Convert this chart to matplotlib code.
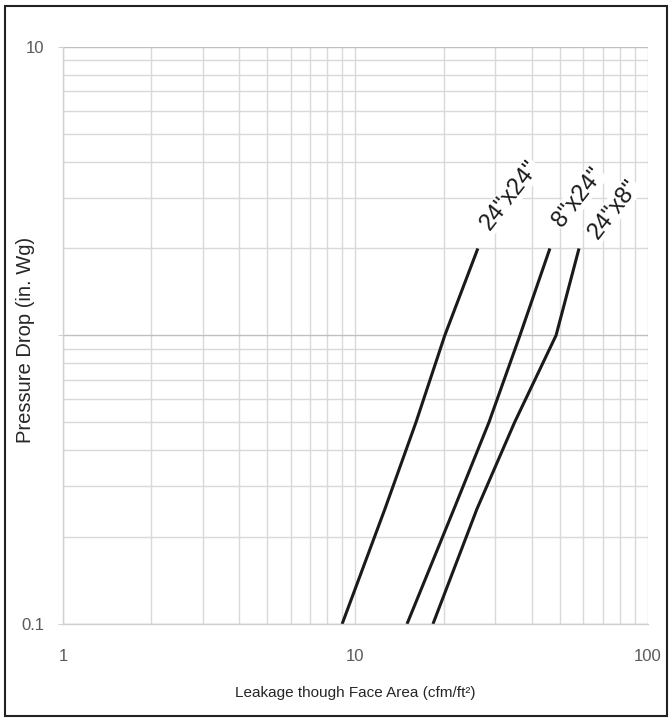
import numpy as np
import matplotlib.pyplot as plt
from matplotlib.patches import Rectangle
from matplotlib.ticker import FixedLocator, NullFormatter, LogLocator

plt.rcParams['font.family'] = ['Liberation Sans', 'DejaVu Sans']

# pressure drop points (in. Wg)
dp = [0.1, 0.25, 0.5, 1, 2]

# leakage (cfm/ft2)
leak_24x24 = [9.0, 12.6, 16.1, 20.2, 26.2]
leak_8x24 = [15.0, 21.7, 28.6, 36.5, 46.2]
leak_24x8 = [18.4, 26.0, 35.0, 48.5, 58.1]

series = [('24"x24"', leak_24x24), ('8"x24"', leak_8x24), ('24"x8"', leak_24x8)]
# label centre (x, y) in data units
label_pos = [(33.8, 3.05), (57.6, 3.0), (76.3, 2.74)]

fig = plt.figure(figsize=(6.72, 7.2), dpi=100)
ax = fig.add_axes([0.09375, 0.1333, 0.8705, 0.8018])

ax.set_xscale('log')
ax.set_yscale('log')
ax.set_xlim(1, 100)
ax.set_ylim(0.1, 10)

grid_col = '#d9d9d9'
ax.xaxis.set_major_locator(FixedLocator([1, 10, 100]))
ax.yaxis.set_major_locator(FixedLocator([0.1, 1, 10]))
ax.xaxis.set_minor_locator(LogLocator(base=10, subs=np.arange(2, 10)))
ax.yaxis.set_minor_locator(LogLocator(base=10, subs=np.arange(2, 10)))
ax.xaxis.set_minor_formatter(NullFormatter())
ax.yaxis.set_minor_formatter(NullFormatter())
ax.set_xticklabels(['1', '10', '100'])
ax.set_yticklabels(['0.1', '', '10'])

ax.grid(True, which='both', color=grid_col, linewidth=1.0)
ax.grid(True, which='major', axis='y', color='#c0c0c0', linewidth=1.0)
ax.set_axisbelow(True)

for s in ['top', 'right']:
    ax.spines[s].set_visible(False)
for s in ['left', 'bottom']:
    ax.spines[s].set_color('#d0d0d0')
    ax.spines[s].set_linewidth(1.0)

ax.tick_params(axis='x', which='both', length=0, pad=18, labelsize=12, labelcolor='#595959')
ax.tick_params(axis='y', which='major', length=3.6, color='#d0d0d0', pad=10, labelsize=12, labelcolor='#595959')
ax.tick_params(axis='y', which='minor', length=0)

for (name, leak), (lx, ly) in zip(series, label_pos):
    ax.plot(leak, dp, color='#1a1a1a', linewidth=2.2, solid_capstyle='butt')
    ax.text(lx, ly, name, rotation=52, ha='center', va='center', fontsize=17,
            color='#1a1a1a', rotation_mode='anchor',
            bbox=dict(facecolor='white', edgecolor='none', pad=0.5))

ax.set_xlabel('Leakage though Face Area (cfm/ft²)', fontsize=11, color='#262626')
ax.xaxis.set_label_coords(0.5, -0.107)
ax.set_ylabel('Pressure Drop (in. Wg)', fontsize=14.5, color='#262626')
ax.yaxis.set_label_coords(-0.048, 0.492)

fig.patches.append(Rectangle((5 / 672, 4 / 720), 662 / 672, 710 / 720, transform=fig.transFigure,
                             fill=False, edgecolor='#222222', linewidth=1.5))

fig.savefig('out.png', dpi=100)
